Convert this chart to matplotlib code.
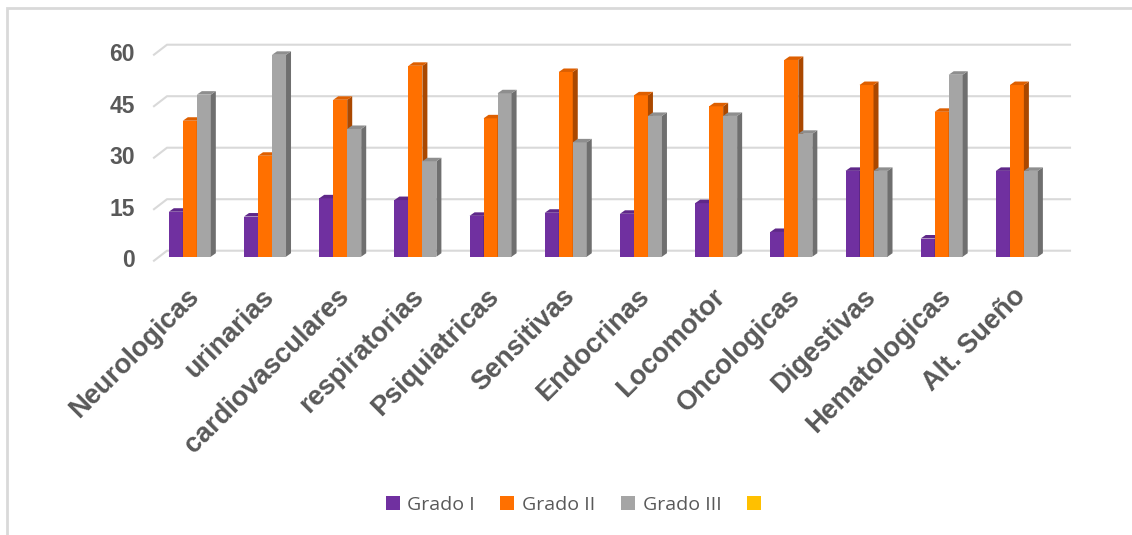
import matplotlib
matplotlib.use("Agg")
import matplotlib.pyplot as plt
from matplotlib.patches import Polygon, Rectangle
import numpy as np

categories = ["Neurologicas", "urinarias", "cardiovasculares", "respiratorias",
              "Psiquiatricas", "Sensitivas", "Endocrinas", "Locomotor",
              "Oncologicas", "Digestivas", "Hematologicas", "Alt. Sueño"]
grado_1 = [13.1, 11.7, 17.0, 16.5, 11.9, 12.8, 12.5, 15.6, 7.2, 25.0, 5.3, 25.0]
grado_2 = [39.6, 29.4, 45.7, 55.6, 40.3, 53.8, 47.0, 43.8, 57.3, 50.0, 42.2, 50.0]
grado_3 = [47.2, 58.8, 37.2, 27.8, 47.6, 33.3, 41.0, 41.0, 35.8, 25.0, 53.0, 25.0]
series_names = ["Grado I", "Grado II", "Grado III", ""]
yticks = [0, 15, 30, 45, 60]

front_col = ["#7030A0", "#FF7000", "#A5A5A5", "#FFC000"]
top_col = ["#5F2889", "#DE5F00", "#8E8E8E"]
side_col = ["#4B1F6E", "#AA4800", "#6F6F6F"]
text_col = "#595959"

W, H = 1132, 535
fig = plt.figure(figsize=(W / 100, H / 100), dpi=100)
fig.patch.set_facecolor("white")

# axes area = plane in which the bar fronts stand
ax_left, ax_base, ax_w, ax_h = 159, 256.7, 903, 216.3
ax = fig.add_axes([ax_left / W, 1 - ax_base / H, ax_w / W, ax_h / H])
x0, x1 = -0.41, 11.6
ax.set_xlim(x0, x1)
ax.set_ylim(0, 63)
ax.axis("off")

# one pixel in data units
ux = (x1 - x0) / ax_w
uy = 63 / ax_h

# gridlines: short diagonal from the front edge, then along the back wall
grid_end = x0 + (1070 - ax_left) * ux
for v in yticks:
    ax.plot([x0 - 5 * ux, x0 + 8 * ux, grid_end],
            [v - 4 * uy, v + 6 * uy, v + 6 * uy],
            color="#D9D9D9", lw=1.5, clip_on=False, zorder=1)
    ax.text(x0 - 24 * ux, v - 4 * uy, str(v), ha="right", va="center",
            fontsize=16.5, fontweight="bold", color=text_col,
            family="Liberation Sans")

# bars with a simple extruded look
bw = 14 * ux
dx, dy = 5 * ux, 3.5 * uy
xs = np.arange(len(categories))
for k, vals in enumerate([grado_1, grado_2, grado_3]):
    lefts = xs + (k - 1.5) * bw
    ax.bar(lefts, vals, width=bw, align="edge", color=front_col[k],
           edgecolor="none", zorder=2 + k)
    for xl, h in zip(lefts, vals):
        xr = xl + bw
        ax.add_patch(Polygon([(xr, 0), (xr, h), (xr + dx, h + dy), (xr + dx, dy)],
                             closed=True, facecolor=side_col[k],
                             edgecolor="none", zorder=2 + k))
        ax.add_patch(Polygon([(xl, h), (xr, h), (xr + dx, h + dy), (xl + dx, h + dy)],
                             closed=True, facecolor=top_col[k],
                             edgecolor="none", zorder=2 + k))

for i, cat in enumerate(categories):
    ax.text(i + 5 * ux, -36 * uy, cat, rotation=45, rotation_mode="anchor",
            ha="right", va="center", fontsize=19.5, fontweight="bold",
            color=text_col, family="Liberation Sans")

handles = [Rectangle((0, 0), 1, 1, facecolor=c, edgecolor="none") for c in front_col]
fig.legend(handles, series_names, loc="center", ncol=4,
           bbox_to_anchor=(577 / W, 1 - 505 / H), frameon=False,
           handlelength=0.72, handleheight=0.72, handletextpad=0.4,
           columnspacing=1.3, prop={"family": "Open Sans", "size": 14},
           labelcolor=text_col)

# chart border
fig.add_artist(Rectangle((7 / W, -0.1), 1.2, 1.1 - 8 / H, transform=fig.transFigure,
                         fill=False, edgecolor="#D9D9D9", lw=2))

fig.savefig("out.png", dpi=100)
